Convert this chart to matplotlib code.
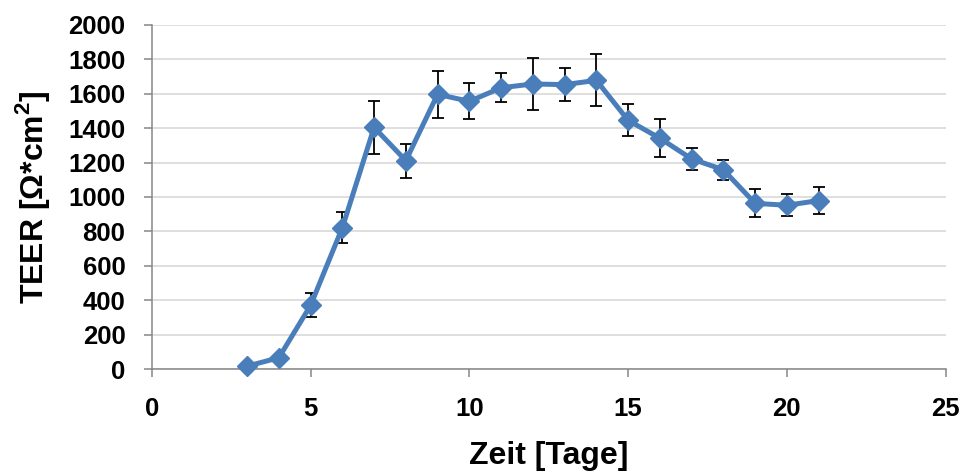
import matplotlib

matplotlib.use("Agg")

import matplotlib.pyplot as plt  # noqa: E402

plt.rcParams["font.family"] = ["Liberation Sans", "DejaVu Sans"]
plt.rcParams["font.weight"] = "bold"
plt.rcParams["mathtext.fontset"] = "custom"
plt.rcParams["mathtext.rm"] = "Liberation Sans:bold"
plt.rcParams["mathtext.bf"] = "Liberation Sans:bold"

# TEER readings per day (mean +/- error)
days = [3, 4, 5, 6, 7, 8, 9, 10, 11, 12, 13, 14, 15, 16, 17, 18, 19, 20, 21]
teer = [18, 67, 371, 822, 1404, 1211, 1596, 1555, 1634, 1656, 1652, 1677,
        1445, 1341, 1221, 1158, 963, 952, 979]
err = [10, 12, 70, 90, 155, 98, 137, 105, 85, 152, 97, 151,
       93, 110, 65, 57, 82, 64, 79]

x_ticks = [0, 5, 10, 15, 20, 25]
y_ticks = list(range(0, 2001, 200))

BLUE = "#4A7EBB"
AXIS_GREY = "#868686"
GRID_GREY = "#D9D9D9"

fig = plt.figure(figsize=(9.61, 4.72), dpi=100)
ax = fig.add_axes([0.158, 0.2176, 0.826, 0.7301])

ax.errorbar(days, teer, yerr=err, fmt="none", ecolor="black",
            elinewidth=1.3, capsize=4.5, capthick=1.3, zorder=2)
ax.plot(days, teer, color=BLUE, linewidth=3.6, marker="D",
        markersize=10, markerfacecolor=BLUE, markeredgecolor=BLUE,
        zorder=3, clip_on=False)

ax.set_xlim(0, 25)
ax.set_ylim(0, 2000)
ax.set_xticks(x_ticks)
ax.set_yticks(y_ticks)

ax.yaxis.grid(True, color=GRID_GREY, linewidth=1.2)
ax.set_axisbelow(True)

for side in ("top", "right"):
    ax.spines[side].set_visible(False)
for side in ("left", "bottom"):
    ax.spines[side].set_color(AXIS_GREY)
    ax.spines[side].set_linewidth(1.1)

ax.tick_params(axis="both", direction="out", length=6, width=1.1,
               color=AXIS_GREY, labelsize=18.5, pad=13)
ax.tick_params(axis="x", pad=14)

ax.set_xlabel("Zeit [Tage]", fontsize=23, fontweight="bold", labelpad=14)
ax.set_ylabel(r"TEER [Ω*cm$^{\mathbf{2}}$]", fontsize=23,
              fontweight="bold", labelpad=12)

fig.savefig("out.png", dpi=100)
plt.close(fig)
